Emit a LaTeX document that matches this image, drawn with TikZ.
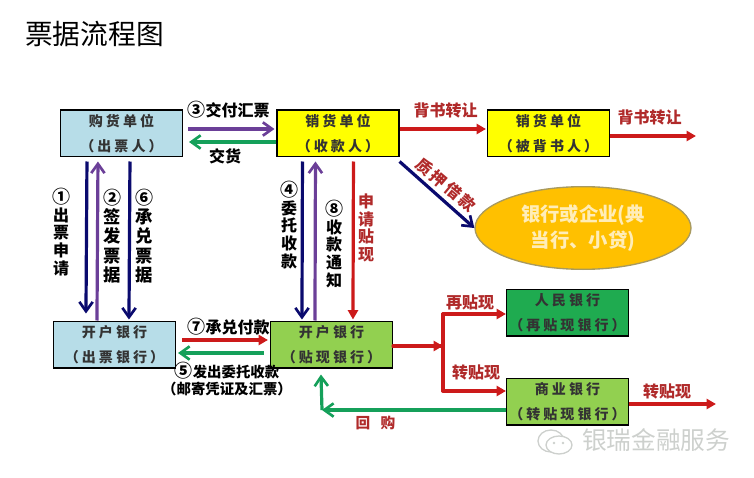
\documentclass[tikz,border=0pt]{standalone}
\usepackage{fontspec}
\usetikzlibrary{arrows.meta,calc,shapes.geometric}
\setmainfont{Noto Sans CJK SC}
\newfontfamily\boxfont[LetterSpace=22]{Noto Sans CJK SC}
\newfontfamily\slantfont[LetterSpace=18]{Noto Sans CJK SC}
\newcommand\cn[1]{{\fontsize{13.5pt}{13.5pt}\selectfont #1}}
\definecolor{cblue}{HTML}{B7DDE8}
\definecolor{cyellow}{HTML}{FFFF00}
\definecolor{cgreen}{HTML}{92D050}
\definecolor{cdgreen}{HTML}{1FAB50}
\definecolor{cnavy}{HTML}{0A0A6E}
\definecolor{cpurple}{HTML}{6B3F98}
\definecolor{cred}{HTML}{CC1A1A}
\definecolor{carrowgreen}{HTML}{15A05A}
\definecolor{ctext}{HTML}{B02A2A}
\definecolor{cell}{HTML}{FFC000}
\definecolor{cellb}{HTML}{A89A60}
\definecolor{cellt}{HTML}{FFEDB8}
\definecolor{cwm}{HTML}{CDD0CD}
\tikzset{
  x=0.75pt,y=-0.75pt,
  bx/.style={draw=black,line width=0.8pt,minimum width=91.5pt,minimum height=35.2pt,inner sep=0pt,align=center,
    font=\boxfont\bfseries\fontsize{10.5pt}{18.5pt}\selectfont,text=black!80,
    execute at begin node=\rule{0pt}{14pt}},
  lab/.style={inner sep=0pt,font=\bfseries\fontsize{12pt}{14pt}\selectfont},
  rlab/.style={lab,text=ctext},
  vlab/.style={inner sep=0pt,align=center,font=\bfseries\fontsize{13pt}{14.5pt}\selectfont},
  vlabs/.style={inner sep=0pt,align=center,font=\bfseries\fontsize{12pt}{13.4pt}\selectfont},
  navyar/.style={draw=cnavy,line width=2.4pt,-{Straight Barb[length=7pt,width=10pt,line width=2pt]}},
  purplear/.style={draw=cpurple,line width=2.4pt,-{Straight Barb[length=7pt,width=10pt,line width=2pt]}},
  redar/.style={draw=cred,line width=2.4pt,-{Triangle[length=7pt,width=7.5pt]}},
  greenar/.style={draw=carrowgreen,line width=2.4pt,-{Straight Barb[length=7pt,width=10pt,line width=2pt]}},
  redln/.style={draw=cred,line width=2.4pt,line cap=round,line join=round},
}
\begin{document}
\begin{tikzpicture}
\useasboundingbox (0,0) rectangle (754,478);
\node[inner sep=0pt,anchor=west,font=\fontsize{20.8pt}{24pt}\selectfont] (title) at (25,34) {票据流程图};
% boxes
\node[bx,fill=cblue] (A) at (121.5,133.5) {购货单位\\（出票人）};
\node[bx,fill=cyellow] (B) at (338,133.5) {销货单位\\（收款人）};
\node[bx,fill=cyellow] (C) at (548.5,133.5) {销货单位\\（被背书人）};
\node[bx,fill=cblue] (D) at (114.5,344.5) {开户银行\\（出票银行）};
\node[bx,fill=cgreen] (E) at (331.5,344.5) {开户银行\\（贴现银行）};
\node[bx,fill=cdgreen] (F) at (567.5,312.5) {人民银行\\（再贴现银行）};
\node[bx,fill=cgreen] (G) at (567.5,401.5) {商业银行\\（转贴现银行）};
\node[ellipse,draw=cellb,line width=1pt,fill=cell,minimum width=162pt,minimum height=62pt,inner sep=0pt,align=center,text=cellt,
  font=\bfseries\fontsize{14.5pt}{19pt}\selectfont] (H) at (583,228) {银行或企业(典\\当行、小贷)};
% helper points
\coordinate (J1) at (443,346);
\coordinate (J2) at (443,314);
\coordinate (J3) at (443,391);
\coordinate (K) at (322,410);
\coordinate (R1) at (696,136);
\coordinate (R2) at (716,404);
% A-B
\draw[purplear] ($(A.east)+(5,-4.5)$) -- ($(B.west)+(-2,-4.5)$);
\draw[greenar] ($(B.west)+(0,8.5)$) -- ($(A.east)+(6,8.5)$);
\draw[redar] ($(B.east)+(0,-4.5)$) -- ($(C.west)+(-1,-4.5)$);
\draw[redar] ($(C.east)+(0,2.5)$) -- (R1);
\draw[navyar] ($(B.south east)+(0,4)$) -- (H.west);
% A-D
\draw[navyar] ($(A.south west)+(27,4)$) -- ($(D.north west)+(33,-7)$);
\draw[purplear] ($(D.north west)+(44,0)$) -- ($(A.south west)+(38,4)$);
\draw[navyar] ($(A.south west)+(70,4)$) -- ($(D.north west)+(76,-1)$);
% B-E
\draw[navyar] ($(B.south west)+(26,4)$) -- ($(E.north west)+(32,-1)$);
\draw[purplear] ($(E.north west)+(45,0)$) -- ($(B.south west)+(39,4)$);
\draw[redar] ($(B.south west)+(77,4)$) -- ($(E.north west)+(83,-1)$);
% D-E
\draw[redar] ($(D.east)+(6,-4.5)$) -- ($(E.west)+(-2,-4.5)$);
\draw[greenar] ($(E.west)+(-6,8.5)$) -- ($(D.east)+(2,8.5)$);
% discount branch
\draw[redln] (E.east|-J1) -- (J1);
\draw[redar] ($(J1)+(-13,0)$) -- (J1);
\draw[redar,line join=round,line cap=round] (J3) -- (J2) -- (F.west|-J2);
\draw[redar,line join=round,line cap=round] (J2) -- (J3) -- (G.west|-J3);
\draw[redar] (G.east|-R2) -- (R2);
% buy-back
\draw[greenar] (G.west|-K) -- (K);
\draw[greenar] (K) -- ($(E.south west)+(51,6)$);
% labels
\node[lab] (t3) at (228.5,110) {\cn{③}交付汇票};
\node[lab] (t4) at (225,156) {交货};
\node[rlab] (t5) at (445.5,110) {背书转让};
\node[rlab] (t6) at (649.5,117) {背书转让};
\node[lab] (t7) at (228.5,327) {\cn{⑦}承兑付款};
\node[lab,font=\bfseries\fontsize{10.8pt}{12.8pt}\selectfont,align=center] (t8) at (227,379) {\cn{⑤}发出委托收款\\（邮寄凭证及汇票）};
\node[rlab] (t9) at (470,302) {再贴现};
\node[rlab] (t10) at (476,372) {转贴现};
\node[rlab] (t11) at (667,391) {转贴现};
\node[rlab,font=\bfseries\fontsize{11pt}{14pt}\selectfont] (t12) at (375.5,423) {回\hspace{0.7em}购};
\node[vlabs] (v1) at (61,232) {\cn{①}\\出\\票\\申\\请};
\node[vlab] (v2) at (112,236) {\cn{②}\\签\\发\\票\\据};
\node[vlab] (v6) at (144,236) {\cn{⑥}\\承\\兑\\票\\据};
\node[vlabs] (v4) at (289,225) {\cn{④}\\委\\托\\收\\款};
\node[vlabs] (v8) at (334,244) {\cn{⑧}\\收\\款\\通\\知};
\node[vlabs,text=ctext] (v9) at (366,228) {申\\请\\贴\\现};
\node[rotate=-40,inner sep=0pt,text=ctext,font=\slantfont\bfseries\fontsize{12pt}{14pt}\selectfont] (t13) at (446,185) {质押借款};
% watermark
\draw[cwm,line width=1pt] (551,441) ellipse (13 and 11);
\draw[cwm,line width=1pt,fill=white] (559,445) ellipse (13 and 9);
\fill[cwm] (554,443) circle (1.4) (563,443) circle (1.4);
\node[inner sep=0pt,anchor=west,text=cwm,font=\fontsize{18.5pt}{22pt}\selectfont] (wm) at (582,440) {银瑞金融服务};
\end{tikzpicture}
\end{document}
